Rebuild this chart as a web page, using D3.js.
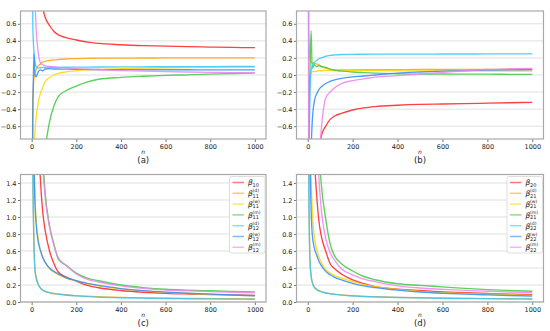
<!DOCTYPE html>
<html>
<head>
<meta charset="utf-8">
<script src="https://cdn.jsdelivr.net/npm/d3@7/dist/d3.min.js"></script>
<style>
  body { margin: 0; background: #fff; }
  svg { display: block; font-family: "DejaVu Sans", sans-serif; }
</style>
</head>
<body>
<svg id="chart" width="550" height="331"></svg>
<script>
// sample sizes n shared by all series
const nSteps = [1, 5, 10, 15, 20, 30, 40, 50, 60, 80, 100, 120, 150, 200, 250, 300, 400, 500, 600, 700, 800, 900, 1000];

// series order: b0, b1(d), b1(w), b1(m), b2(d), b2(w), b2(m)
const colors = ['#ff2020', '#ffa500', '#ffd700', '#3ec83e', '#33c8ff', '#2a8cff', '#ee82ee'];

// (a) estimates, first group
const seriesA = [
  [3, 2.5, 1.8, 1.5, 1.3, 1.05, 0.9, 0.78, 0.68, 0.58, 0.51, 0.47, 0.44, 0.41, 0.385, 0.37, 0.355, 0.345, 0.338, 0.332, 0.327, 0.323, 0.32],
  [-2, -0.3, -0.05, 0.02, 0.06, 0.11, 0.13, 0.15, 0.16, 0.17, 0.178, 0.182, 0.188, 0.192, 0.195, 0.197, 0.198, 0.199, 0.2, 0.2, 0.2, 0.2, 0.2],
  [-5, -3, -1.1, -0.65, -0.5, -0.32, -0.21, -0.14, -0.08, -0.03, 0.0, 0.02, 0.035, 0.05, 0.06, 0.065, 0.075, 0.08, 0.085, 0.088, 0.09, 0.092, 0.095],
  [-8, -6, -4, -3, -2.5, -1.8, -1.4, -1.1, -0.88, -0.55, -0.36, -0.25, -0.19, -0.13, -0.08, -0.05, -0.028, -0.015, -0.005, 0.002, 0.01, 0.018, 0.022],
  [2, 0.6, 0.28, 0.15, 0.1, 0.08, 0.085, 0.09, 0.09, 0.09, 0.09, 0.09, 0.091, 0.092, 0.093, 0.094, 0.095, 0.096, 0.097, 0.098, 0.099, 0.1, 0.1],
  [-3, -0.6, 0.25, 0.0, -0.02, 0.04, 0.06, 0.05, 0.07, 0.075, 0.07, 0.07, 0.068, 0.066, 0.065, 0.064, 0.063, 0.062, 0.062, 0.061, 0.06, 0.06, 0.06],
  [5, 3, 1.2, 0.85, 0.55, 0.25, 0.14, 0.12, 0.11, 0.1, 0.095, 0.09, 0.085, 0.075, 0.068, 0.062, 0.052, 0.045, 0.04, 0.035, 0.03, 0.027, 0.025]
];

// (b) estimates, second group
const seriesB = [
  [-6, -5, -3.5, -2.8, -2.3, -1.7, -1.3, -0.95, -0.72, -0.6, -0.52, -0.48, -0.45, -0.41, -0.385, -0.37, -0.355, -0.345, -0.34, -0.335, -0.33, -0.325, -0.32],
  [2, 0.5, 0.2, 0.15, 0.14, 0.14, 0.13, 0.12, 0.1, 0.08, 0.065, 0.06, 0.06, 0.06, 0.061, 0.062, 0.063, 0.064, 0.064, 0.065, 0.065, 0.065, 0.065],
  [-2, -0.4, 0.0, 0.02, 0.04, 0.04, 0.045, 0.05, 0.05, 0.055, 0.055, 0.055, 0.055, 0.054, 0.053, 0.052, 0.05, 0.049, 0.048, 0.047, 0.046, 0.045, 0.045],
  [-3, -1, 0.05, 0.52, 0.08, 0.12, 0.1, 0.11, 0.1, 0.09, 0.07, 0.055, 0.045, 0.035, 0.028, 0.022, 0.015, 0.01, 0.012, 0.01, 0.01, 0.008, 0.008],
  [5, -1.0, -0.2, 0.05, 0.1, 0.15, 0.17, 0.19, 0.2, 0.22, 0.23, 0.235, 0.24, 0.242, 0.243, 0.244, 0.245, 0.245, 0.246, 0.246, 0.247, 0.247, 0.247],
  [-8, -4, -1.6, -0.9, -0.55, -0.3, -0.22, -0.17, -0.14, -0.1, -0.075, -0.058, -0.04, -0.022, -0.012, 0.0, 0.022, 0.035, 0.045, 0.052, 0.057, 0.06, 0.063],
  [8, -4, -3.5, -3, -2.8, -2.0, -1.4, -1.0, -0.65, -0.27, -0.2, -0.15, -0.1, -0.065, -0.045, -0.025, -0.008, 0.01, 0.03, 0.05, 0.065, 0.073, 0.078]
];

// (c) deviations, first group
const seriesC = [
  [20, 12, 6, 4, 3, 2, 1.4, 1.05, 0.85, 0.6, 0.45, 0.35, 0.3, 0.245, 0.195, 0.168, 0.135, 0.115, 0.102, 0.094, 0.088, 0.083, 0.078],
  [10, 1.8, 0.75, 0.38, 0.3, 0.21, 0.165, 0.14, 0.128, 0.11, 0.1, 0.094, 0.085, 0.075, 0.068, 0.062, 0.054, 0.049, 0.045, 0.042, 0.04, 0.038, 0.036],
  [20, 6, 2.0, 1.25, 0.98, 0.73, 0.61, 0.53, 0.47, 0.39, 0.35, 0.32, 0.285, 0.245, 0.215, 0.19, 0.155, 0.13, 0.113, 0.1, 0.09, 0.08, 0.072],
  [30, 20, 12, 8, 6, 3.5, 2.4, 1.7, 1.3, 0.9, 0.68, 0.5, 0.44, 0.34, 0.28, 0.25, 0.2, 0.17, 0.15, 0.14, 0.132, 0.125, 0.12],
  [12, 1.6, 0.7, 0.37, 0.28, 0.2, 0.16, 0.138, 0.125, 0.108, 0.098, 0.09, 0.082, 0.072, 0.064, 0.058, 0.05, 0.045, 0.041, 0.038, 0.036, 0.034, 0.032],
  [18, 5, 1.8, 1.15, 0.92, 0.7, 0.6, 0.52, 0.47, 0.4, 0.36, 0.33, 0.29, 0.25, 0.22, 0.195, 0.158, 0.133, 0.116, 0.103, 0.092, 0.082, 0.074],
  [30, 18, 11, 7.5, 5.5, 3.2, 2.2, 1.6, 1.25, 0.88, 0.66, 0.52, 0.44, 0.33, 0.265, 0.235, 0.19, 0.16, 0.14, 0.13, 0.122, 0.115, 0.108]
];

// (d) deviations, second group
const seriesD = [
  [20, 10, 5, 3.5, 2.6, 1.7, 1.25, 0.95, 0.78, 0.6, 0.45, 0.39, 0.33, 0.26, 0.215, 0.18, 0.152, 0.135, 0.12, 0.11, 0.1, 0.092, 0.086],
  [12, 1.5, 0.5, 0.32, 0.24, 0.175, 0.15, 0.133, 0.122, 0.108, 0.099, 0.092, 0.083, 0.074, 0.067, 0.062, 0.055, 0.05, 0.046, 0.043, 0.04, 0.038, 0.036],
  [25, 8, 2.5, 1.5, 1.1, 0.76, 0.62, 0.53, 0.47, 0.38, 0.34, 0.31, 0.28, 0.24, 0.205, 0.18, 0.148, 0.125, 0.11, 0.1, 0.092, 0.085, 0.078],
  [30, 20, 12, 8, 6, 3.8, 2.6, 1.8, 1.4, 0.98, 0.68, 0.54, 0.45, 0.365, 0.3, 0.262, 0.215, 0.195, 0.178, 0.16, 0.145, 0.135, 0.127],
  [10, 1.3, 0.48, 0.3, 0.23, 0.17, 0.145, 0.13, 0.12, 0.106, 0.097, 0.09, 0.08, 0.072, 0.065, 0.06, 0.053, 0.048, 0.044, 0.041, 0.039, 0.037, 0.035],
  [20, 5, 1.8, 1.1, 0.8, 0.63, 0.55, 0.48, 0.43, 0.36, 0.32, 0.29, 0.26, 0.22, 0.19, 0.17, 0.14, 0.118, 0.103, 0.092, 0.084, 0.077, 0.07],
  [30, 18, 10, 7, 5, 3, 2, 1.45, 1.1, 0.75, 0.58, 0.49, 0.39, 0.32, 0.27, 0.24, 0.19, 0.165, 0.15, 0.137, 0.127, 0.118, 0.11]
];

const xTicks = [0, 200, 400, 600, 800, 1000];
const yTicksTop = [-0.6, -0.4, -0.2, 0, 0.2, 0.4, 0.6];
const yTicksBottom = [0, 0.2, 0.4, 0.6, 0.8, 1.0, 1.2, 1.4];
const legendSub1 = ['10', '11', '11', '11', '12', '12', '12'];
const legendSub2 = ['20', '21', '21', '21', '22', '22', '22'];
const legendSup = ['', '(d)', '(w)', '(m)', '(d)', '(w)', '(m)'];

const panels = [
  { tag: '(a)', data: seriesA, left: 20.5, right: 266, top: 11, bottom: 139, yDomain: [-0.75, 0.75], yTicks: yTicksTop, subs: null },
  { tag: '(b)', data: seriesB, left: 296.5, right: 543.5, top: 11, bottom: 139, yDomain: [-0.75, 0.75], yTicks: yTicksTop, subs: null },
  { tag: '(c)', data: seriesC, left: 20.5, right: 266, top: 174.5, bottom: 302, yDomain: [0, 1.5], yTicks: yTicksBottom, subs: legendSub1 },
  { tag: '(d)', data: seriesD, left: 296.5, right: 543.5, top: 174.5, bottom: 302, yDomain: [0, 1.5], yTicks: yTicksBottom, subs: legendSub2 }
];

const svg = d3.select('#chart');
const fmt = d3.format('.1f');

panels.forEach((p, pi) => {
  const x = d3.scaleLinear().domain([-50, 1050]).range([p.left, p.right]);
  const y = d3.scaleLinear().domain(p.yDomain).range([p.bottom, p.top]);
  const g = svg.append('g');

  // grid
  g.append('g').selectAll('line')
    .data(p.yTicks)
    .join('line')
    .attr('x1', p.left).attr('x2', p.right)
    .attr('y1', d => y(d)).attr('y2', d => y(d))
    .attr('stroke', '#dcdcdc')
    .attr('stroke-width', 0.9);

  // clip
  const clipId = 'clip' + pi;
  svg.append('clipPath').attr('id', clipId)
    .append('rect')
    .attr('x', p.left).attr('y', p.top)
    .attr('width', p.right - p.left).attr('height', p.bottom - p.top);

  const line = d3.line()
    .x((d, i) => x(nSteps[i]))
    .y(d => y(d))
    .curve(d3.curveMonotoneX);

  g.append('g')
    .attr('clip-path', `url(#${clipId})`)
    .selectAll('path')
    .data(p.data)
    .join('path')
    .attr('d', d => line(d))
    .attr('fill', 'none')
    .attr('stroke', (d, i) => colors[i])
    .attr('stroke-width', 1.35)
    .attr('stroke-opacity', 0.85);

  // axes
  const xAxis = g.append('g')
    .attr('transform', `translate(0,${p.bottom})`)
    .call(d3.axisBottom(x).tickValues(xTicks).tickSize(3).tickPadding(2).tickFormat(d3.format('d')));
  const yAxis = g.append('g')
    .attr('transform', `translate(${p.left},0)`)
    .call(d3.axisLeft(y).tickValues(p.yTicks).tickSize(2.5).tickPadding(1.5).tickFormat(fmt));
  [xAxis, yAxis].forEach(a => {
    a.select('.domain').remove();
    a.selectAll('line').attr('stroke', '#777');
    a.selectAll('text').attr('font-size', 6.5).attr('fill', '#222')
      .attr('font-family', '"DejaVu Sans", sans-serif');
  });

  // frame
  g.append('rect')
    .attr('x', p.left).attr('y', p.top)
    .attr('width', p.right - p.left).attr('height', p.bottom - p.top)
    .attr('fill', 'none')
    .attr('stroke', '#a8a8a8')
    .attr('stroke-width', 1.2);

  // labels
  const cx = (x(0) + x(1000)) / 2;
  g.append('text')
    .attr('x', cx).attr('y', p.bottom + 14.5)
    .attr('text-anchor', 'middle')
    .attr('font-size', 6).attr('font-style', 'italic').attr('fill', '#222')
    .text('n');
  g.append('text')
    .attr('x', cx).attr('y', p.bottom + 23.5)
    .attr('text-anchor', 'middle')
    .attr('font-size', 8.5).attr('fill', '#222')
    .text(p.tag);

  // legend
  if (p.subs) {
    const lw = 35.5, lh = 76.5;
    const lx = p.right - lw - 1, ly = p.top + 2;
    const lg = g.append('g');
    lg.append('rect')
      .attr('x', lx).attr('y', ly).attr('width', lw).attr('height', lh)
      .attr('rx', 2)
      .attr('fill', '#fff').attr('fill-opacity', 0.9)
      .attr('stroke', '#d6d6d6').attr('stroke-width', 0.8);
    const item = lg.selectAll('g')
      .data(p.subs)
      .join('g')
      .attr('transform', (d, i) => `translate(${lx + 3},${ly + 6 + i * 10.8})`);
    item.append('line')
      .attr('x1', 0).attr('x2', 11.5)
      .attr('y1', 0).attr('y2', 0)
      .attr('stroke', (d, i) => colors[i])
      .attr('stroke-width', 1.5)
      .attr('stroke-opacity', 0.6);
    item.append('text')
      .attr('x', 15.5).attr('y', 2.8)
      .attr('font-size', 7.5).attr('font-style', 'italic').attr('fill', '#222')
      .text('β');
    item.append('text')
      .attr('x', 20).attr('y', 4.2)
      .attr('font-size', 5).attr('fill', '#222')
      .text(d => d);
    item.append('text')
      .attr('x', 20).attr('y', -1)
      .attr('font-size', 4.6).attr('fill', '#222')
      .text((d, i) => legendSup[i]);
  }
});
</script>
</body>
</html>
